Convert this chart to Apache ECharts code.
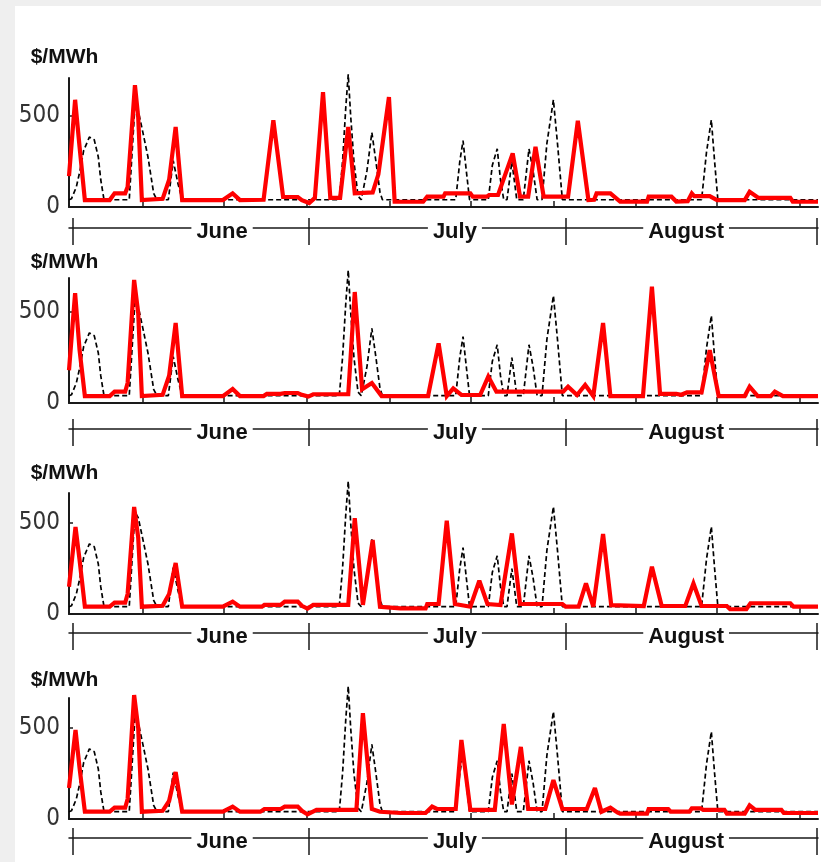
<!DOCTYPE html>
<html>
<head>
<meta charset="utf-8">
<script src="https://cdn.jsdelivr.net/npm/echarts@6/dist/echarts.min.js"></script>
<style>
  html, body { margin: 0; padding: 0; background: #efefef; }
  #sheet { position: absolute; left: 15px; top: 6px; width: 806px; height: 856px; background: #fff; }
  #chart { position: absolute; left: 0; top: 0; width: 821px; height: 862px; }
</style>
</head>
<body>
<div id="sheet"></div>
<div id="chart"></div>
<script>
// x = days since June 1 (0 .. 92), y = $/MWh
// dashed reference price, same in every panel
const refPrice = [
  [0, 40], [0.3, 45], [0.9, 110], [1.35, 200], [1.8, 310], [2.5, 385], [3.1, 370], [3.6, 275], [3.9, 150], [4.3, 40],
  [7.4, 40], [8.1, 560], [8.5, 530], [9.1, 405], [9.7, 275], [10.4, 75], [10.8, 40],
  [12.2, 40], [12.8, 255], [13.4, 126], [13.9, 40],
  [33.2, 40], [33.6, 250], [34.0, 550], [34.3, 730], [34.6, 500], [35.0, 250], [35.5, 60], [35.9, 40],
  [36.1, 40], [36.6, 200], [37.2, 410], [37.7, 250], [38.2, 80], [38.5, 40],
  [47.5, 40], [48.0, 250], [48.4, 365], [48.8, 200], [49.2, 40],
  [51.5, 40], [52.0, 230], [52.6, 320], [53.0, 150], [53.4, 40],
  [53.8, 40], [54.4, 250], [55.0, 40],
  [55.8, 40], [56.2, 200], [56.5, 320], [57.0, 200], [57.5, 40],
  [58.1, 40], [58.7, 350], [59.5, 590], [60.0, 350], [60.6, 40],
  [77.7, 40], [78.3, 300], [78.9, 480], [79.3, 250], [79.7, 40],
  [92, 40]
];

const red1 = [
  [0, 170], [0.75, 590], [1.3, 330], [1.95, 38], [5.0, 38], [5.6, 75], [6.9, 75], [7.2, 110], [8.1, 670], [8.5, 495], [8.95, 38],
  [11.5, 45], [12.3, 150], [13.1, 440], [13.9, 38], [18.9, 38], [20.1, 75], [21.0, 38],
  [23.9, 40], [25.1, 478], [26.3, 55], [28.1, 55], [28.6, 38], [29.5, 22], [30.2, 50], [31.2, 632], [32.1, 50],
  [33.3, 50], [34.3, 440], [35.1, 75], [37.3, 80], [38.0, 180], [39.3, 605], [40.0, 30],
  [43.5, 29], [44.0, 57], [46.0, 57], [46.2, 75], [49.3, 75], [49.6, 57], [51.3, 57], [51.6, 66], [52.7, 66],
  [54.5, 295], [55.4, 57], [56.4, 57], [57.3, 331], [58.3, 57], [61.3, 57], [62.5, 474], [63.8, 38],
  [64.5, 40], [64.8, 75], [66.5, 75], [67.7, 30], [71.0, 30], [71.2, 57], [74.0, 57], [74.6, 30], [76.0, 32],
  [76.5, 75], [76.8, 60], [78.7, 60], [79.6, 38], [83.0, 38], [83.6, 84], [84.7, 50], [88.6, 50], [88.9, 29], [92, 29]
];

const red2 = [
  [0, 180], [0.75, 604], [1.3, 291], [1.95, 38], [5.0, 38], [5.6, 62], [6.9, 62], [7.2, 110], [8.0, 676], [8.5, 495], [8.95, 38],
  [11.5, 45], [12.3, 150], [13.1, 440], [13.9, 38], [18.9, 38], [20.1, 77], [21.0, 38],
  [23.9, 38], [24.3, 50], [26.0, 50], [26.5, 55], [28.1, 55], [28.6, 45], [29.4, 35], [30.0, 48], [34.3, 48],
  [35.1, 610], [36.0, 75], [37.2, 110], [38.4, 38], [44.1, 38], [45.4, 328], [46.4, 38], [47.2, 80], [48.2, 45],
  [50.5, 44], [51.5, 145], [52.5, 62], [60.7, 62], [61.3, 90], [62.4, 44], [63.4, 99], [64.4, 38], [65.6, 440], [66.5, 38],
  [70.5, 38], [71.6, 639], [72.6, 50], [74.6, 50], [75.2, 45], [75.9, 58], [77.7, 58], [78.7, 291], [79.8, 38],
  [83.0, 38], [83.6, 90], [84.6, 38], [86.2, 38], [86.7, 62], [87.7, 38], [92, 38]
];

const red3 = [
  [0, 150], [0.8, 478], [1.3, 297], [1.95, 40], [5.0, 40], [5.6, 62], [6.9, 62], [7.2, 110], [8.0, 588], [8.5, 420], [8.95, 40],
  [11.5, 45], [12.3, 110], [13.1, 280], [13.9, 40], [18.9, 40], [20.1, 68], [21.0, 40],
  [23.7, 40], [24.0, 50], [26.0, 50], [26.5, 68], [28.1, 68], [28.6, 45], [29.3, 30], [30.0, 50], [34.3, 50],
  [35.1, 527], [36.1, 50], [37.3, 407], [38.2, 40], [40.7, 31], [43.8, 31], [44.0, 55], [45.4, 55], [46.4, 513], [47.4, 55],
  [49.3, 40], [50.4, 183], [51.4, 55], [53.0, 49], [54.4, 443], [55.4, 55], [60.6, 55], [61.0, 40], [62.6, 40],
  [63.5, 168], [64.4, 40], [65.6, 440], [66.6, 49], [70.6, 44], [71.6, 260], [72.8, 44], [75.7, 44], [76.7, 168], [77.7, 44],
  [80.8, 44], [81.2, 26], [83.2, 26], [83.7, 59], [88.6, 59], [89.0, 40], [92, 40]
];

const red4 = [
  [0, 170], [0.8, 489], [1.3, 280], [1.95, 40], [5.0, 40], [5.6, 62], [6.9, 62], [7.2, 110], [8.0, 681], [8.5, 500], [8.95, 40],
  [11.5, 45], [12.3, 100], [13.1, 258], [13.9, 40], [18.9, 40], [20.1, 68], [21.0, 40],
  [23.5, 40], [24.0, 55], [26.0, 55], [26.5, 68], [28.1, 68], [28.6, 45], [29.3, 25], [30.4, 50], [35.3, 50],
  [36.1, 582], [37.2, 55], [38.2, 40], [40.7, 33], [43.8, 33], [44.6, 68], [45.2, 55], [47.5, 55], [48.2, 434], [49.3, 50],
  [52.3, 50], [53.4, 522], [54.4, 80], [55.5, 396], [56.4, 55], [58.5, 55], [59.5, 214], [60.6, 55], [63.6, 55],
  [64.6, 170], [65.4, 40], [66.5, 62], [67.4, 35], [67.7, 30], [71.0, 30], [71.2, 55], [73.6, 55], [73.9, 40], [76.2, 40],
  [76.5, 58], [77.6, 58], [77.9, 50], [80.5, 50], [80.8, 30], [83.0, 30], [83.6, 75], [84.3, 50], [87.5, 50], [87.8, 33], [92, 33]
];

const panelPrices = [red1, red2, red3, red4];
const yTicks = [0, 500];
const yMax = [710, 687, 665, 665];
const dayTicks = [9, 19, 29.2, 39.4, 49.4, 59.5, 69.6, 79.6, 89.8];
const monthEdges = [0.4, 29.4, 61.0, 91.9];
const monthMid = [18.8, 47.4, 75.8];
const monthNames = ['June', 'July', 'August'];

// panel layout (pixels)
const panelTop = [78, 278, 493, 698];
const panelBottom = [207, 403, 614, 819];
const bracketOffset = [21, 26, 19, 19];
const unitGap = [10, 5, 9, 7];

const ink = '#1a1a1a';
const boldFont = "'Liberation Sans', Arial, sans-serif";
const narrowFont = "'Liberation Sans Narrow', 'Arial Narrow', 'DejaVu Sans Condensed', sans-serif";

const chart = echarts.init(document.getElementById('chart'), null, { renderer: 'canvas' });

const grid = [], xAxis = [], yAxis = [], series = [];

panelPrices.forEach((prices, i) => {
  grid.push({ left: 69, right: 3, top: panelTop[i], height: panelBottom[i] - panelTop[i] });

  // main day axis
  xAxis.push({
    type: 'value', gridIndex: i, min: 0, max: 92,
    axisLine: { onZero: false, lineStyle: { color: ink, width: 2 } },
    axisTick: { inside: true, length: 6, customValues: dayTicks, lineStyle: { color: ink, width: 1.5 } },
    axisLabel: { show: false },
    splitLine: { show: false }
  });
  // month bracket: line, downward bars, labels
  xAxis.push({
    type: 'value', gridIndex: i, min: 0, max: 92, position: 'bottom', offset: bracketOffset[i],
    axisLine: { onZero: false, lineStyle: { color: ink, width: 1.5 } },
    axisTick: { length: 17, customValues: monthEdges, lineStyle: { color: ink, width: 1.5 } },
    axisLabel: {
      customValues: monthMid,
      formatter: v => monthNames[monthMid.indexOf(v)],
      margin: 4, verticalAlign: 'middle',
      fontSize: 22, fontWeight: 'bold', fontFamily: boldFont, color: '#111',
      backgroundColor: '#fff', padding: [0, 5]
    },
    splitLine: { show: false }
  });
  // month bracket: upward bars
  xAxis.push({
    type: 'value', gridIndex: i, min: 0, max: 92, position: 'bottom', offset: bracketOffset[i],
    axisLine: { show: false, onZero: false },
    axisTick: { inside: true, length: 10, customValues: monthEdges, lineStyle: { color: ink, width: 1.5 } },
    axisLabel: { show: false },
    splitLine: { show: false }
  });

  yAxis.push({
    type: 'value', gridIndex: i, min: 0, max: yMax[i],
    name: '$/MWh', nameLocation: 'end', nameGap: unitGap[i],
    nameTextStyle: { fontSize: 21, fontWeight: 'bold', fontFamily: boldFont, color: '#111', padding: [0, 9, 0, 0] },
    axisLine: { show: true, onZero: false, lineStyle: { color: ink, width: 2 } },
    axisTick: { show: true, inside: true, length: 4, customValues: yTicks, lineStyle: { color: ink, width: 1.5 } },
    axisLabel: { customValues: yTicks, fontSize: 24, fontFamily: narrowFont, color: '#333', margin: 9 },
    splitLine: { show: false }
  });

  series.push({
    type: 'line', xAxisIndex: i * 3, yAxisIndex: i, data: refPrice,
    symbol: 'none', clip: false, z: 2,
    lineStyle: { color: '#000', width: 1.7, type: [5, 3] }
  });
  series.push({
    type: 'line', xAxisIndex: i * 3, yAxisIndex: i, data: prices,
    symbol: 'none', clip: false, z: 3,
    lineStyle: { color: '#ff0000', width: 4.2, join: 'miter', miterLimit: 3 }
  });
});

chart.setOption({
  animation: false,
  grid: grid,
  xAxis: xAxis,
  yAxis: yAxis,
  series: series
});
</script>
</body>
</html>
